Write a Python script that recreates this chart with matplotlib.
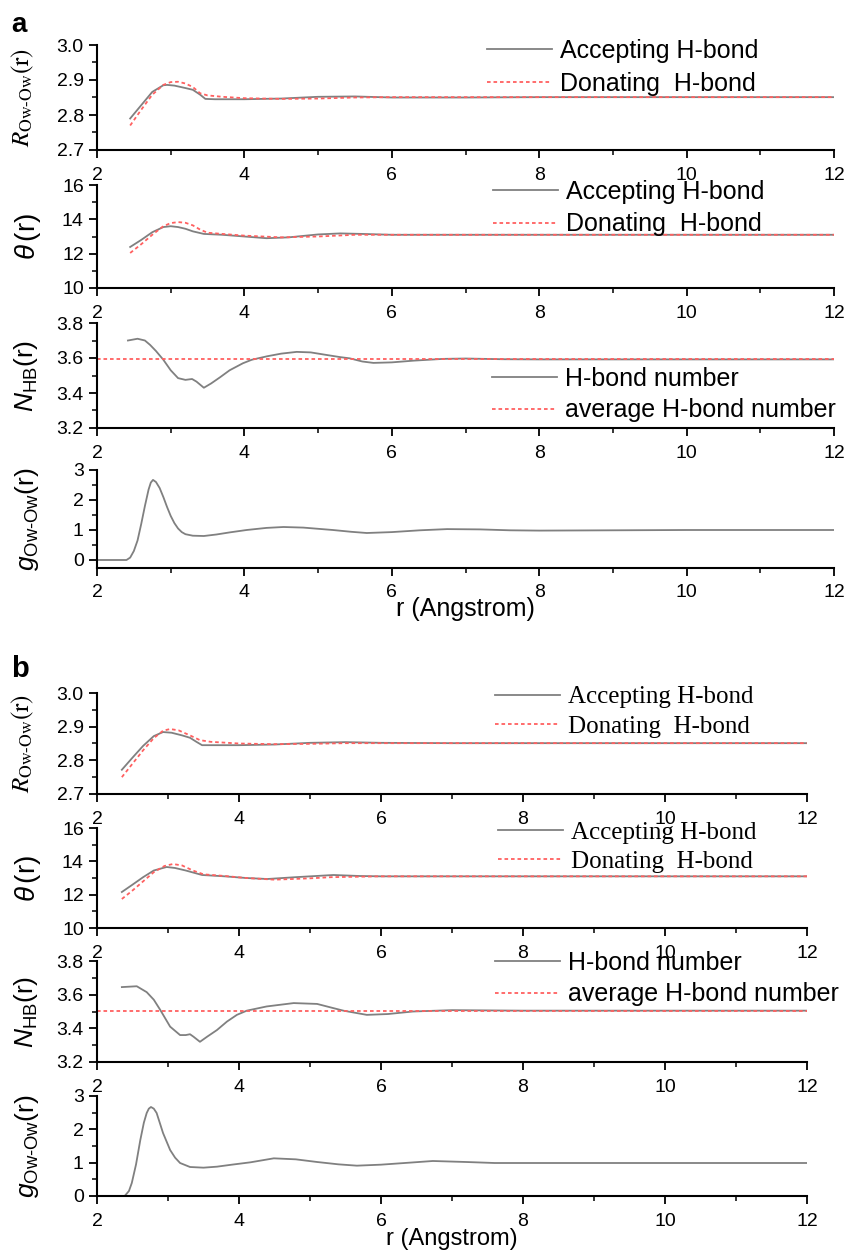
import matplotlib
matplotlib.use("Agg")
import matplotlib.pyplot as plt
from matplotlib.ticker import MultipleLocator, FormatStrFormatter

plt.rcParams['font.family'] = ['Liberation Sans', 'DejaVu Sans']
plt.rcParams['mathtext.fontset'] = 'custom'
plt.rcParams['mathtext.rm'] = 'Liberation Sans'
plt.rcParams['mathtext.it'] = 'Liberation Sans:italic'
plt.rcParams['mathtext.bf'] = 'Liberation Sans:bold'

# ---------------- data: panel a ----------------
a_R_acc_x = [2.45, 2.6, 2.75, 2.9, 2.95, 3.05, 3.2, 3.3, 3.4, 3.47, 3.6, 4.0, 4.5, 5.0, 5.5, 6.0, 7.0, 8.0, 10.0, 12.0]
a_R_acc_y = [2.790, 2.828, 2.866, 2.885, 2.886, 2.884, 2.877, 2.872, 2.858, 2.846, 2.845, 2.845, 2.847, 2.852, 2.853, 2.850, 2.850, 2.851, 2.851, 2.851]
a_R_don_x = [2.45, 2.6, 2.75, 2.9, 3.0, 3.1, 3.2, 3.3, 3.4, 3.5, 3.7, 4.0, 4.5, 5.0, 5.5, 6.0, 7.0, 8.0, 10.0, 12.0]
a_R_don_y = [2.770, 2.815, 2.858, 2.886, 2.894, 2.895, 2.890, 2.880, 2.862, 2.856, 2.852, 2.848, 2.846, 2.847, 2.850, 2.851, 2.851, 2.851, 2.851, 2.851]

a_T_acc_x = [2.45, 2.6, 2.75, 2.9, 3.0, 3.1, 3.2, 3.3, 3.45, 3.7, 4.0, 4.3, 4.6, 5.0, 5.3, 5.6, 6.0, 7.0, 8.0, 12.0]
a_T_acc_y = [12.39, 12.8, 13.25, 13.55, 13.6, 13.55, 13.45, 13.3, 13.15, 13.1, 13.0, 12.9, 12.95, 13.12, 13.18, 13.15, 13.1, 13.1, 13.1, 13.1]
a_T_don_x = [2.45, 2.6, 2.75, 2.9, 3.0, 3.1, 3.2, 3.3, 3.4, 3.5, 3.7, 4.0, 4.5, 5.0, 5.5, 6.0, 7.0, 12.0]
a_T_don_y = [12.04, 12.55, 13.1, 13.6, 13.78, 13.84, 13.8, 13.65, 13.4, 13.22, 13.15, 13.05, 12.95, 13.0, 13.1, 13.1, 13.1, 13.1]

a_N_x = [2.42, 2.55, 2.65, 2.72, 2.8, 2.9, 3.0, 3.1, 3.2, 3.29, 3.35, 3.45, 3.55, 3.67, 3.8, 3.98, 4.1, 4.31, 4.5,
         4.71, 4.9, 5.12, 5.3, 5.43, 5.6, 5.75, 6.0, 6.3, 6.7, 7.0, 7.5, 8.0, 10.0, 12.0]
a_N_y = [3.70, 3.71, 3.70, 3.675, 3.64, 3.59, 3.53, 3.485, 3.475, 3.48, 3.465, 3.43, 3.455, 3.49, 3.53, 3.57, 3.59, 3.61, 3.625,
         3.635, 3.632, 3.617, 3.605, 3.598, 3.58, 3.572, 3.575, 3.585, 3.595, 3.597, 3.593, 3.592, 3.592, 3.592]
a_N_avg = 3.592

a_g_x = [2.0, 2.4, 2.45, 2.5, 2.55, 2.6, 2.65, 2.7, 2.73, 2.76, 2.8, 2.85, 2.9, 2.95, 3.0, 3.05, 3.1, 3.15, 3.2, 3.3, 3.45,
         3.62, 3.8, 4.03, 4.3, 4.53, 4.8, 5.0, 5.2, 5.45, 5.66, 6.0, 6.38, 6.75, 7.2, 7.6, 8.0, 9.0, 10.0, 12.0]
a_g_y = [0.0, 0.0, 0.08, 0.3, 0.65, 1.2, 1.8, 2.35, 2.58, 2.67, 2.6, 2.4, 2.1, 1.77, 1.47, 1.23, 1.05, 0.93, 0.86, 0.81, 0.8,
         0.85, 0.92, 1.0, 1.07, 1.1, 1.08, 1.04, 1.0, 0.94, 0.9, 0.93, 0.99, 1.03, 1.02, 0.99, 0.98, 0.99, 1.0, 1.0]

# ---------------- data: panel b ----------------
b_R_acc_x = [2.35, 2.5, 2.65, 2.8, 2.93, 3.05, 3.2, 3.31, 3.4, 3.48, 3.6, 4.0, 4.5, 5.0, 5.5, 6.0, 7.0, 8.0, 12.0]
b_R_acc_y = [2.772, 2.808, 2.843, 2.872, 2.884, 2.882, 2.874, 2.867, 2.855, 2.845, 2.845, 2.845, 2.847, 2.852, 2.854, 2.852, 2.851, 2.851, 2.851]
b_R_don_x = [2.35, 2.5, 2.65, 2.8, 2.93, 3.03, 3.15, 3.3, 3.45, 3.6, 4.0, 4.5, 5.0, 5.5, 6.0, 7.0, 12.0]
b_R_don_y = [2.750, 2.790, 2.830, 2.866, 2.888, 2.893, 2.889, 2.875, 2.860, 2.855, 2.850, 2.848, 2.849, 2.851, 2.851, 2.851, 2.851]

b_T_acc_x = [2.35, 2.5, 2.65, 2.8, 2.98, 3.1, 3.25, 3.48, 3.8, 4.1, 4.4, 4.8, 5.33, 5.7, 6.0, 7.0, 12.0]
b_T_acc_y = [12.16, 12.6, 13.05, 13.45, 13.66, 13.6, 13.45, 13.18, 13.1, 13.0, 12.94, 13.05, 13.18, 13.12, 13.1, 13.1, 13.1]
b_T_don_x = [2.35, 2.5, 2.65, 2.8, 2.95, 3.07, 3.2, 3.35, 3.5, 3.8, 4.1, 4.5, 5.0, 5.3, 6.0, 7.0, 12.0]
b_T_don_y = [11.74, 12.25, 12.8, 13.35, 13.72, 13.84, 13.75, 13.45, 13.22, 13.12, 13.0, 12.9, 12.98, 13.05, 13.1, 13.1, 13.1]

b_N_x = [2.35, 2.56, 2.7, 2.8, 2.89, 3.03, 3.17, 3.25, 3.31, 3.36, 3.45, 3.55, 3.69, 3.83, 3.97, 4.11, 4.39, 4.77, 5.1,
         5.33, 5.47, 5.8, 6.1, 6.45, 7.0, 8.0, 12.0]
b_N_y = [3.645, 3.65, 3.615, 3.57, 3.51, 3.41, 3.36, 3.36, 3.365, 3.35, 3.32, 3.35, 3.39, 3.44, 3.48, 3.505, 3.53, 3.55, 3.545,
         3.52, 3.505, 3.48, 3.485, 3.5, 3.508, 3.505, 3.505]
b_N_avg = 3.505

b_g_x = [2.39, 2.45, 2.49, 2.55, 2.61, 2.66, 2.7, 2.73, 2.76, 2.8, 2.84, 2.93, 3.03, 3.1, 3.17, 3.31, 3.5, 3.69, 3.9, 4.16, 4.49, 4.8,
         5.1, 5.4, 5.66, 6.0, 6.4, 6.73, 7.2, 7.6, 8.0, 10.0, 12.0]
b_g_y = [0.0, 0.15, 0.39, 0.95, 1.68, 2.2, 2.49, 2.62, 2.67, 2.62, 2.49, 1.89, 1.38, 1.15, 0.99, 0.87, 0.85, 0.88, 0.94, 1.01, 1.13, 1.1,
         1.02, 0.95, 0.91, 0.94, 1.0, 1.05, 1.02, 0.99, 0.99, 0.99, 0.99]

acc_label = "Accepting H-bond"
don_label = "Donating  H-bond"
nhb_label = "H-bond number"
avg_label = "average H-bond number"

# ---------------- layout ----------------
W, H = 849, 1253
fig = plt.figure(figsize=(W / 100, H / 100), dpi=100)

GRAY = '#808080'
RED = '#ff6060'
DOT = (0, (2, 1.6))


def fx(px):
    return px / W


def fy(py):
    return 1 - py / H


def make_ax(left, right, top, bottom):
    return fig.add_axes([fx(left), fy(bottom), (right - left) / W, (bottom - top) / H])


def style(ax, ylim, ymaj, ymin, fmt):
    ax.set_xlim(2, 12)
    ax.set_ylim(*ylim)
    for s in ('top', 'right'):
        ax.spines[s].set_visible(False)
    for s in ('left', 'bottom'):
        ax.spines[s].set_linewidth(1.5)
    ax.xaxis.set_major_locator(MultipleLocator(2))
    ax.xaxis.set_minor_locator(MultipleLocator(1))
    ax.yaxis.set_major_locator(MultipleLocator(ymaj))
    ax.yaxis.set_minor_locator(MultipleLocator(ymin))
    ax.yaxis.set_major_formatter(FormatStrFormatter(fmt))
    ax.tick_params(which='major', direction='out', length=6, width=1.3, labelsize=14, pad=6)
    ax.tick_params(which='minor', direction='out', length=3.5, width=1.1)
    ax.tick_params(axis='y', which='major', pad=3.5)
    ax.patch.set_alpha(0)


def leg(ax, handles_labels, left_px, top_px, family, spacing):
    hs = [h for h, _ in handles_labels]
    ls = [l for _, l in handles_labels]
    ax.legend(hs, ls, loc='upper left', bbox_to_anchor=(fx(left_px), fy(top_px)),
              bbox_transform=fig.transFigure, frameon=False, borderpad=0, borderaxespad=0,
              handlelength=2.6, handletextpad=0.32, labelspacing=spacing,
              prop={'family': family, 'size': 18})


def ylab(text, xc, yc, size=17, mathfam='custom'):
    fig.text(fx(xc), fy(yc), text, rotation=90, ha='center', va='center', fontsize=size,
             math_fontfamily=mathfam)


def panel(L, R, tops, bots, data, legpos, legfam, avg, g_ylim, xlab_y, xlab_size, spacing):
    (Rax, Rdx, Ray, Rdy, Tax, Tdx, Tay, Tdy, Nx, Ny, gx, gy) = data
    ax1 = make_ax(L, R, tops[0], bots[0])
    ax2 = make_ax(L, R, tops[1], bots[1])
    ax3 = make_ax(L, R, tops[2], bots[2])
    ax4 = make_ax(L, R, tops[3], bots[3])

    h1, = ax1.plot(Rax, Ray, color=GRAY, lw=1.3)
    h2, = ax1.plot(Rdx, Rdy, color=RED, lw=1.3, ls=DOT)
    style(ax1, (2.7, 3.0), 0.1, 0.05, '%.1f')
    leg(ax1, [(h1, acc_label), (h2, don_label)], legpos[0][0], legpos[0][1], legfam, spacing)

    h1, = ax2.plot(Tax, Tay, color=GRAY, lw=1.3)
    h2, = ax2.plot(Tdx, Tdy, color=RED, lw=1.3, ls=DOT)
    style(ax2, (10, 16), 2, 1, '%d')
    leg(ax2, [(h1, acc_label), (h2, don_label)], legpos[1][0], legpos[1][1], legfam, spacing)

    h1, = ax3.plot(Nx, Ny, color=GRAY, lw=1.3)
    h2 = ax3.axhline(avg, xmin=0, xmax=1, color=RED, lw=1.3, ls=DOT)
    style(ax3, (3.2, 3.8), 0.2, 0.1, '%.1f')
    leg(ax3, [(h1, nhb_label), (h2, avg_label)], legpos[2][0], legpos[2][1], 'Liberation Sans', 0.3)

    ax4.plot(gx, gy, color=GRAY, lw=1.3)
    style(ax4, g_ylim, 1, 0.5, '%d')

    xc = (L + R) / 2
    fig.text(fx(xc), fy(xlab_y), 'r (Angstrom)', ha='center', va='center', fontsize=xlab_size)

    ylab(r'$R_{\mathrm{Ow}\text{-}\mathrm{Ow}}(\mathrm{r})$', 23, (tops[0] + bots[0]) / 2, 18, 'stix')
    ylab(r'$\theta\,$(r)', 28, (tops[1] + bots[1]) / 2, 20)
    ylab(r'$N_{\mathrm{HB}}$(r)', 26, (tops[2] + bots[2]) / 2, 19)
    ylab(r'$g_{\mathrm{Ow}\text{-}\mathrm{Ow}}$(r)', 27, (tops[3] + bots[3]) / 2, 19)


panel(97, 834, [45, 185, 323, 470], [150, 288, 428, 567.5],
      (a_R_acc_x, a_R_don_x, a_R_acc_y, a_R_don_y, a_T_acc_x, a_T_don_x, a_T_acc_y, a_T_don_y,
       a_N_x, a_N_y, a_g_x, a_g_y),
      [(487, 39), (493, 180), (492, 367)], 'Liberation Sans', a_N_avg, (-0.25, 3), 609, 18, 0.34)

panel(97, 807, [693, 828, 961, 1096], [794, 928, 1062, 1196],
      (b_R_acc_x, b_R_don_x, b_R_acc_y, b_R_don_y, b_T_acc_x, b_T_don_x, b_T_acc_y, b_T_don_y,
       b_N_x, b_N_y, b_g_x, b_g_y),
      [(495, 686), (498, 821), (495, 951)], 'Liberation Serif', b_N_avg, (0, 3), 1239, 17, 0.28)

fig.text(fx(11), fy(32), 'a', fontsize=20, fontweight='bold', va='baseline', ha='left')
fig.text(fx(11), fy(677), 'b', fontsize=21, fontweight='bold', va='baseline', ha='left')

fig.savefig('out.png', dpi=100)
